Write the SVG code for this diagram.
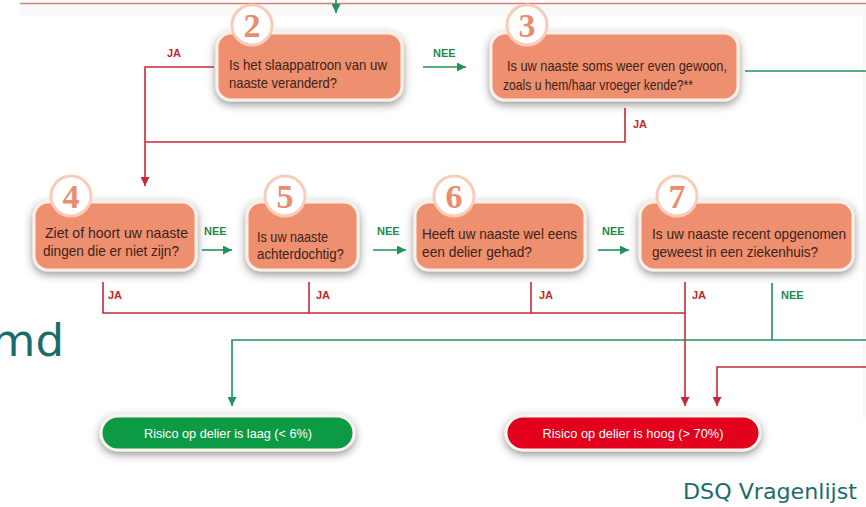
<svg xmlns="http://www.w3.org/2000/svg" width="866" height="507" viewBox="0 0 866 507">
<defs>
<filter id="sh" x="-20%" y="-40%" width="140%" height="190%">
<feDropShadow dx="0" dy="3" stdDeviation="4" flood-color="#3a3a3a" flood-opacity="0.55"/>
</filter>
<marker id="ar" viewBox="0 0 10 10" refX="10" refY="5" markerWidth="9" markerHeight="9" markerUnits="userSpaceOnUse" orient="auto">
<path d="M0,0 L10,5 L0,10 z" fill="#c8283a"/>
</marker>
<marker id="ag" viewBox="0 0 10 10" refX="10" refY="5" markerWidth="9" markerHeight="9" markerUnits="userSpaceOnUse" orient="auto">
<path d="M0,0 L10,5 L0,10 z" fill="#1f9458"/>
</marker>
</defs>
<style>
.box{fill:#ee8f6f;stroke:#fcefe5;stroke-width:3;filter:url(#sh)}
.circ{fill:#ffffff;stroke:#f7cdb9;stroke-width:3}
.num{font-family:"Liberation Serif",serif;font-size:34px;font-weight:bold;fill:#ea8c6e;text-anchor:middle}
.t{font-family:"Liberation Sans",Arial,sans-serif;font-size:14.5px;fill:#3b2418}
.red{fill:none;stroke:#c8283a;stroke-width:1.6}
.grn{fill:none;stroke:#1f9458;stroke-width:1.6}
.ja{font-family:"Liberation Sans",Arial,sans-serif;font-size:11px;font-weight:bold;fill:#c0272d}
.nee{font-family:"Liberation Sans",Arial,sans-serif;font-size:11px;font-weight:bold;fill:#1f8a50}
.res{font-family:"Liberation Sans",Arial,sans-serif;font-size:13.5px;fill:#ffffff;text-anchor:middle}
.teal{font-family:"DejaVu Sans",Verdana,sans-serif;fill:#1b6b6e}
</style>
<rect x="0" y="0" width="866" height="507" fill="#ffffff"/>
<rect x="20" y="4" width="846" height="12" fill="#f9f9f9"/>
<line x1="20" y1="3.5" x2="866" y2="3.5" stroke="#e07b7b" stroke-width="1.3"/>
<line x1="864" y1="10" x2="864" y2="420" stroke="#efefef" stroke-width="1"/>

<g id="connectors">
<path class="grn" d="M336,0 V13" marker-end="url(#ag)"/>
<path class="red" d="M214,67 H145 V186" marker-end="url(#ar)"/>
<path class="red" d="M625,108 V142 H145"/>
<path class="grn" d="M423,67 H466" marker-end="url(#ag)"/>
<path class="grn" d="M745,71 H866"/>
<path class="grn" d="M202,250 H232" marker-end="url(#ag)"/>
<path class="grn" d="M373,250 H406" marker-end="url(#ag)"/>
<path class="grn" d="M598,250 H629" marker-end="url(#ag)"/>
<path class="red" d="M103,282 V313 H685"/>
<path class="red" d="M309,282 V313"/>
<path class="red" d="M531,282 V313"/>
<path class="red" d="M685,282 V406" marker-end="url(#ar)"/>
<path class="grn" d="M772,283 V340"/>
<path class="grn" d="M866,340 H232 V406" marker-end="url(#ag)"/>
<path class="red" d="M866,367 H717 V406" marker-end="url(#ar)"/>
<text class="ja" x="167" y="57">JA</text>
<text class="nee" x="433" y="57">NEE</text>
<text class="ja" x="633" y="128">JA</text>
<text class="nee" x="204" y="235">NEE</text>
<text class="nee" x="377" y="235">NEE</text>
<text class="nee" x="602" y="235">NEE</text>
<text class="ja" x="108" y="299">JA</text>
<text class="ja" x="316" y="299">JA</text>
<text class="ja" x="539" y="299">JA</text>
<text class="ja" x="692" y="299">JA</text>
<text class="nee" x="781" y="299">NEE</text>
</g>

<g id="node2">
<rect class="box" x="217" y="33" width="185" height="67" rx="14"/>
<circle class="circ" cx="252" cy="25" r="20"/>
<text class="num" x="252" y="37">2</text>
<text class="t" x="229" y="70" textLength="158" lengthAdjust="spacingAndGlyphs">Is het slaappatroon van uw</text>
<text class="t" x="229" y="88" textLength="108" lengthAdjust="spacingAndGlyphs">naaste veranderd?</text>
</g>
<g id="node3">
<rect class="box" x="491" y="33" width="247" height="67" rx="14"/>
<circle class="circ" cx="527" cy="25" r="20"/>
<text class="num" x="527" y="37">3</text>
<text class="t" x="507" y="71" textLength="220" lengthAdjust="spacingAndGlyphs">Is uw naaste soms weer even gewoon,</text>
<text class="t" x="503" y="90" textLength="190" lengthAdjust="spacingAndGlyphs">zoals u hem/haar vroeger kende?**</text>
</g>
<g id="node4">
<rect class="box" x="34" y="202" width="162" height="68" rx="14"/>
<circle class="circ" cx="71" cy="196" r="20"/>
<text class="num" x="71" y="208">4</text>
<text class="t" x="45" y="238" textLength="143" lengthAdjust="spacingAndGlyphs">Ziet of hoort uw naaste</text>
<text class="t" x="43" y="256" textLength="136" lengthAdjust="spacingAndGlyphs">dingen die er niet zijn?</text>
</g>
<g id="node5">
<rect class="box" x="247" y="202" width="111" height="68" rx="14"/>
<circle class="circ" cx="285" cy="196" r="20"/>
<text class="num" x="285" y="208">5</text>
<text class="t" x="257" y="242" textLength="71" lengthAdjust="spacingAndGlyphs">Is uw naaste</text>
<text class="t" x="257" y="259" textLength="87" lengthAdjust="spacingAndGlyphs">achterdochtig?</text>
</g>
<g id="node6">
<rect class="box" x="415" y="202" width="170" height="68" rx="14"/>
<circle class="circ" cx="454" cy="196" r="20"/>
<text class="num" x="454" y="208">6</text>
<text class="t" x="422" y="239" textLength="155" lengthAdjust="spacingAndGlyphs">Heeft uw naaste wel eens</text>
<text class="t" x="422" y="257" textLength="110" lengthAdjust="spacingAndGlyphs">een delier gehad?</text>
</g>
<g id="node7">
<rect class="box" x="640" y="202" width="213" height="68" rx="14"/>
<circle class="circ" cx="677" cy="196" r="20"/>
<text class="num" x="677" y="208">7</text>
<text class="t" x="652" y="239" textLength="194" lengthAdjust="spacingAndGlyphs">Is uw naaste recent  opgenomen</text>
<text class="t" x="652" y="257" textLength="166" lengthAdjust="spacingAndGlyphs">geweest in een ziekenhuis?</text>
</g>
<g id="result-low">
<rect x="101" y="416" width="253" height="34" rx="17" fill="#0b9a45" stroke="#fbf3ee" stroke-width="3" filter="url(#sh)"/>
<text class="res" x="228" y="438" textLength="168" lengthAdjust="spacingAndGlyphs">Risico op delier is laag (&lt; 6%)</text>
</g>
<g id="result-high">
<rect x="506" y="416" width="254" height="34" rx="17" fill="#e2001a" stroke="#fbf3ee" stroke-width="3" filter="url(#sh)"/>
<text class="res" x="633" y="438" textLength="181" lengthAdjust="spacingAndGlyphs">Risico op delier is hoog (&gt; 70%)</text>
</g>

<text class="teal" x="64" y="356" font-size="45" text-anchor="end" fill="#0e5d62">md</text>
<text class="teal" x="683" y="499" font-size="22" textLength="174" lengthAdjust="spacingAndGlyphs">DSQ Vragenlijst</text>
</svg>
